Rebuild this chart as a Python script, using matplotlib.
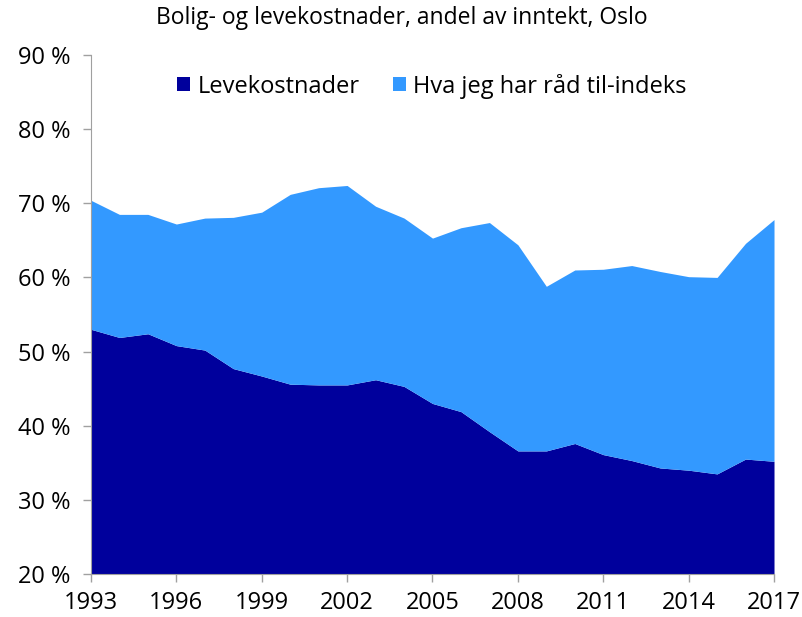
import matplotlib
matplotlib.use('Agg')
import matplotlib.pyplot as plt
from matplotlib.ticker import FuncFormatter

plt.rcParams['font.family'] = ['Open Sans', 'DejaVu Sans']

years = list(range(1993, 2018))
levekostnader = [53.0, 51.9, 52.4, 50.8, 50.2, 47.7, 46.7, 45.6, 45.5, 45.5,
                 46.2, 45.3, 43.0, 41.9, 39.2, 36.6, 36.6, 37.6, 36.1, 35.3,
                 34.3, 34.0, 33.5, 35.5, 35.2]
total = [70.4, 68.5, 68.5, 67.2, 68.0, 68.1, 68.8, 71.2, 72.1, 72.4,
         69.6, 68.0, 65.3, 66.7, 67.4, 64.4, 58.8, 61.0, 61.1, 61.6,
         60.8, 60.1, 60.0, 64.6, 67.8]
labels = ['Levekostnader', 'Hva jeg har råd til-indeks']
colors = ['#00009c', '#3399ff']

fig = plt.figure(figsize=(8.03, 6.17), dpi=100)
ax = fig.add_axes([0.1133, 0.0697, 0.8506, 0.8412])

base = [20] * len(years)
ax.fill_between(years, base, levekostnader, color=colors[0], lw=0, label=labels[0])
ax.fill_between(years, levekostnader, total, color=colors[1], lw=0, label=labels[1])

ax.set_xlim(1993, 2017)
ax.set_ylim(20, 90)
ax.set_xticks(range(1993, 2018, 3))
ax.set_yticks(range(20, 91, 10))
ax.yaxis.set_major_formatter(FuncFormatter(lambda v, p: f'{int(v)} %'))
ax.tick_params(axis='both', colors='#a0a0a0', labelcolor='black', length=6, width=1)
ax.tick_params(axis='y', labelsize=17, pad=9)
ax.tick_params(axis='x', labelsize=17, pad=6)
for s in ['top', 'right']:
    ax.spines[s].set_visible(False)
for s in ['left', 'bottom']:
    ax.spines[s].set_color('#a0a0a0')

ax.legend(loc='upper center', bbox_to_anchor=(0.499, 1.005), ncol=2, frameon=False,
          fontsize=17, handlelength=0.55, handleheight=0.55, handletextpad=0.3,
          columnspacing=1.4)
fig.suptitle('Bolig- og levekostnader, andel av inntekt, Oslo', fontsize=16.5,
             x=0.5, y=0.99)

fig.savefig('out.png', dpi=100)
